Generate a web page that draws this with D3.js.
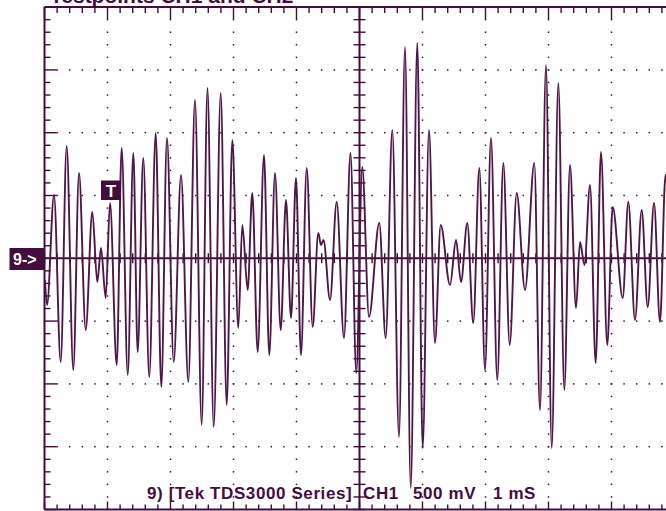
<!DOCTYPE html>
<html>
<head>
<meta charset="utf-8">
<script src="https://cdn.jsdelivr.net/npm/d3@7"></script>
<style>
    body { margin: 0; background: #fff; }
    svg { display: block; font-family: "Liberation Sans", Arial, sans-serif; font-weight: bold; }
</style>
</head>
<body>
<svg></svg>
<script>
const timeMs = [
    -4.992, -4.960, -4.849, -4.743, -4.648, -4.543, -4.452, -4.346, -4.241, -4.162,
    -4.103, -4.029, -3.960, -3.854, -3.775, -3.679, -3.590, -3.521, -3.432, -3.337,
    -3.235, -3.146, -3.056, -2.949, -2.833, -2.717, -2.611, -2.505, -2.413, -2.314,
    -2.203, -2.108, -2.019, -1.924, -1.860, -1.775, -1.702, -1.616, -1.516, -1.432,
    -1.341, -1.251, -1.167, -1.087, -1.008, -0.929, -0.838, -0.743, -0.654, -0.611,
    -0.571, -0.468, -0.362, -0.246, -0.143, -0.051, 0.044, 0.151, 0.314, 0.416,
    0.521, 0.627, 0.722, 0.813, 0.917, 1.003, 1.103, 1.198, 1.289, 1.437,
    1.532, 1.611, 1.711, 1.806, 1.902, 1.992, 2.087, 2.187, 2.283, 2.384,
    2.495, 2.627, 2.775, 2.865, 2.960, 3.051, 3.156, 3.251, 3.341, 3.437,
    3.500, 3.571, 3.659, 3.749, 3.833, 3.933, 4.019, 4.178, 4.267, 4.373,
    4.479, 4.575, 4.675, 4.770, 4.857, 4.929
];
const valueMv = [
    -173, -372, 504, -826, 894, -889, 679, -571, 369, -189,
    82, -316, 440, -850, 878, -929, 838, -746, 799, -945,
    998, -1025, 958, -826, 663, -985, 1260, -1327, 1356, -1343,
    1316, -1168, 942, -555, 265, -252, 520, -746, 822, -770,
    679, -571, 464, -475, 639, -770, 719, -547, 201, 106,
    146, -332, 448, -635, 838, -913, 727, -467, 281, -635,
    1022, -1423, 1683, -1829, 1714, -1510, 1022, -674, 265, -213,
    146, -189, 281, -515, 719, -889, 958, -969, 759, -690,
    520, -252, 759, -1208, 1539, -1510, 1396, -1049, 743, -396,
    130, -53, 584, -834, 846, -690, 408, -316, 448, -491,
    385, -388, 440, -507, 663, -490
];

const title = "Testpoints CH1 and CH2";
const refLabel = "9->";
const trigLabel = "T";
const status = ["9) [Tek TDS3000 Series]", "CH1", "500 mV", "1 mS"];

const W = 666, H = 511;
const ink = "#430d3d";
const traceColor = "#4f1748";

let svg = d3.select("svg").attr("width", W).attr("height", H);

// 10 делений по 1 мс, 8 делений по 500 мВ
const x = d3.scaleLinear().domain([-5, 5]).range([44.5, 674.5]);
const y = d3.scaleLinear().domain([-2000, 2000]).range([509.5, 7.1]);

const minorT = d3.range(-25, 26).map(d => d / 5);
const minorV = d3.range(-20, 21).map(d => d * 100);
const isMajorT = t => Math.abs(t - Math.round(t)) < 1e-6;
const isMajorV = v => v % 500 === 0;

let grid = svg.append("g");

// точки сетки
[-4, -3, -2, -1, 1, 2, 3, 4].forEach(t => {
    minorV.forEach(v => {
        grid.append("rect")
            .attr("x", x(t) - 0.75).attr("y", y(v) - 0.75)
            .attr("width", 1.5).attr("height", 1.5)
            .attr("fill", ink);
    });
});
[-1500, -1000, -500, 500, 1000, 1500].forEach(v => {
    minorT.forEach(t => {
        grid.append("rect")
            .attr("x", x(t) - 0.75).attr("y", y(v) - 0.75)
            .attr("width", 1.5).attr("height", 1.5)
            .attr("fill", ink);
    });
});

// рамка
grid.append("line").attr("x1", x(-5)).attr("x2", x(-5)).attr("y1", y(2000)).attr("y2", y(-2000))
    .attr("stroke", ink).attr("stroke-width", 2);
grid.append("line").attr("x1", x(-5)).attr("x2", W).attr("y1", y(2000)).attr("y2", y(2000))
    .attr("stroke", ink).attr("stroke-width", 2);
grid.append("line").attr("x1", x(-5)).attr("x2", W).attr("y1", y(-2000)).attr("y2", y(-2000))
    .attr("stroke", ink).attr("stroke-width", 2);

// насечки на рамке
minorT.forEach(t => {
    grid.append("line")
        .attr("x1", x(t)).attr("x2", x(t))
        .attr("y1", y(2000)).attr("y2", y(2000) + (isMajorT(t) ? 12 : 6))
        .attr("stroke", ink).attr("stroke-width", 1.4);
    grid.append("line")
        .attr("x1", x(t)).attr("x2", x(t))
        .attr("y1", y(-2000)).attr("y2", y(-2000) - (isMajorT(t) ? 8 : 5))
        .attr("stroke", ink).attr("stroke-width", 1.4);
});
minorV.forEach(v => {
    grid.append("line")
        .attr("x1", x(-5)).attr("x2", x(-5) + (isMajorV(v) ? 12 : 6))
        .attr("y1", y(v)).attr("y2", y(v))
        .attr("stroke", ink).attr("stroke-width", 1.4);
});

// центральный крест
grid.append("line").attr("x1", x(0)).attr("x2", x(0)).attr("y1", y(2000)).attr("y2", y(-2000))
    .attr("stroke", ink).attr("stroke-width", 2);
grid.append("line").attr("x1", x(-5)).attr("x2", W).attr("y1", y(0)).attr("y2", y(0))
    .attr("stroke", ink).attr("stroke-width", 2);
minorV.forEach(v => {
    grid.append("line")
        .attr("x1", x(0) - 6).attr("x2", x(0) + 6)
        .attr("y1", y(v)).attr("y2", y(v))
        .attr("stroke", ink).attr("stroke-width", 1.4);
});
minorT.forEach(t => {
    grid.append("line")
        .attr("x1", x(t)).attr("x2", x(t))
        .attr("y1", y(0) - 5).attr("y2", y(0) + 5)
        .attr("stroke", ink).attr("stroke-width", 1.4);
});

// осциллограмма
const points = timeMs.map((t, i) => [t, valueMv[i]]);
svg.append("path")
    .attr("d", d3.line().x(d => x(d[0])).y(d => y(d[1])).curve(d3.curveMonotoneX)(points))
    .attr("fill", "none")
    .attr("stroke", traceColor)
    .attr("stroke-width", 1.9)
    .attr("stroke-linejoin", "round");

// заголовок, обрезанный сверху
svg.append("text")
    .attr("x", 50).attr("y", 3)
    .attr("font-size", 21)
    .attr("fill", ink)
    .text(title);

// маркер уровня
svg.append("rect").attr("x", 9.5).attr("y", 248).attr("width", 35).attr("height", 22).attr("fill", ink);
svg.append("text").attr("x", 13).attr("y", 265).attr("font-size", 16).attr("fill", "#fff").text(refLabel);

// маркер запуска
svg.append("rect").attr("x", 101).attr("y", 180.5).attr("width", 20).attr("height", 19.5).attr("fill", ink);
svg.append("text").attr("x", 111).attr("y", 197).attr("text-anchor", "middle")
    .attr("font-size", 17).attr("fill", "#fff").text(trigLabel);

// строка состояния
const statusX = [147, 363, 413, 493];
status.forEach((s, i) => {
    svg.append("text")
        .attr("x", statusX[i]).attr("y", 498.5)
        .attr("font-size", 17)
        .attr("letter-spacing", 0.6)
        .attr("fill", ink)
        .text(s);
});
</script>
</body>
</html>
